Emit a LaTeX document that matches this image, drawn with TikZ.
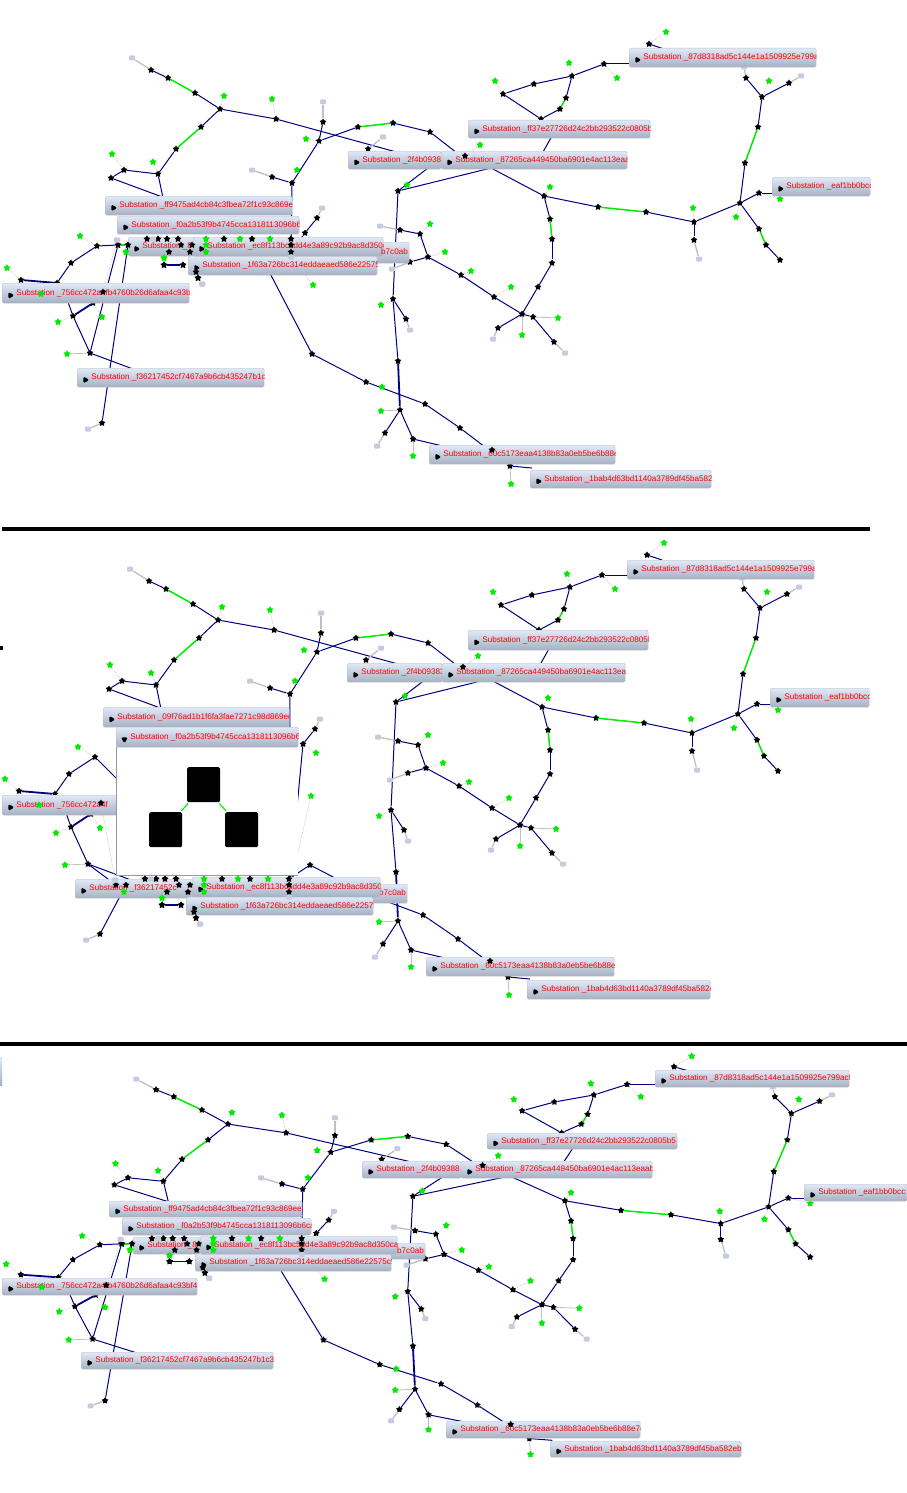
\documentclass[tikz,border=0pt]{standalone}
\usepackage{fontspec}
\setmainfont{Liberation Sans}
\usetikzlibrary{shapes.geometric}
\definecolor{navy}{RGB}{0,0,128}
\definecolor{hot}{RGB}{0,235,0}
\definecolor{boxtop}{RGB}{224,233,248}
\definecolor{boxbot}{RGB}{166,176,194}
\definecolor{endgray}{RGB}{196,204,222}
\pgfdeclarelayer{wires}
\pgfsetlayers{wires,main}
\tikzset{
    netnode/.style={star, star points=5, star point ratio=1.7, fill=black, inner sep=0pt, minimum size=7pt},
    leafnode/.style={star, star points=5, star point ratio=1.7, fill=hot, inner sep=0pt, minimum size=7.5pt},
    endnode/.style={rectangle, rounded corners=1pt, fill=endgray, inner sep=0pt, minimum width=6pt, minimum height=5pt},
    wire/.style={navy, line width=1pt},
    heavy/.style={navy, line width=1.8pt},
    hotwire/.style={hot, line width=1.5pt},
    stub/.style={gray!55, line width=0.6pt, densely dotted},
    solidstub/.style={gray!50, line width=0.8pt},
    endstub/.style={gray!50, line width=1.3pt},
    subtext/.style={anchor=west, inner sep=0pt, minimum width=0pt, minimum height=0pt, text=red, font=\fontsize{8.1}{9}\selectfont},
    subtip/.style={regular polygon, regular polygon sides=3, fill=black, inner sep=0pt, minimum size=8pt},
    subbox/.style={anchor=north west, inner sep=0pt, draw=gray!50, line width=0.4pt, rounded corners=1.5pt, top color=boxtop, bottom color=boxbot,
        path picture={
            \node[subtip, shape border rotate=\tiprot] (\n p) at ([xshift=6pt]path picture bounding box.west) {};
            \node[subtext] (\n t) at ([xshift=14pt]path picture bounding box.west) {\lab};
        }},
    popupsq/.style={rectangle, rounded corners=1.5pt, fill=black, inner sep=0pt}
}
\newcommand{\tiprot}{-90}
\newcommand{\subrow}[1]{
    \foreach \n/\xa/\ya/\xb/\yb/\lab in {#1} {
        \node[subbox, minimum width={(\xb-\xa)*1pt}, minimum height={(\yb-\ya)*1pt}] (\n) at (\xa,\ya) {};
    }
}
\newcommand{\netmain}[1]{
    \foreach \n/\x/\y in {a2/151/70, a3/168/78, a4/195/93, a5/220/109, a6/201/127, a7/176/149, a8/158/174, a9/124/170, a10/111/178,
        b1/276/119, b2/323/122, b3/319/141, b4/358/127, b5/393/123, b6/430/132, b7/368/149, c1/292/183, c2/272/177,
        d3/97/246, d4/71/263, d5/57/283, d6/21/280, d7/93/303, d8/73/316, d9/90/353, d10/102/423, e1/317/218, e2/305/233,
        f1/398/191, f2/400/230, f3/420/234, f4/428/257, f5/410/262, f6/393/299, f7/406/319, f8/398/361, f9/400/410, f10/385/433, f11/413/439,
        g1/461/275, g2/494/297, g3/522/314, g4/533/317, g5/554/342, g6/498/328, h1/538/287, h2/552/263, h3/552/239, h4/550/219, h5/544/196,
        i1/598/207, i2/646/212, i3/694/222, i4/694/240, i5/740/203, i6/759/193, i7/759/229, i8/766/245, i9/780/260,
        j1/745/163, j2/758/127, j3/762/97, j4/746/78, j5/789/83, k1/604/64, k2/572/76, k3/534/84, k4/503/94, k5/541/119, k6/560/109, k7/566/98,
        l1/649/44, m1/312/354, m2/366/382, m3/425/404, m4/460/428, n1/510/466} {
        \node[netnode] (#1\n) at (\x,\y) {};
    }
    \foreach \n/\x/\y in {la/224/96, lb/272/99, lc/306/139, ld/297/170, le/153/162, lf/112/154, lg/80/236, lh/7/268, li/102/317, lj/58/322, lk/67/354,
        ll/318/242, lm/313/285, ln/382/387, lo/381/411, lp/413/456, lq/381/305, lr/407/185, ls/430/224, lt/445/252, lu/471/271, lv/511/287,
        lw/558/318, lx/522/335, ly/550/187, lz/693/208, ma/736/217, mb/780/199, mc/769/81, md/617/78, me/569/63, mf/495/81, mg/666/32, mh/480/145, mi/511/484} {
        \node[leafnode] (#1\n) at (\x,\y) {};
    }
    \foreach \n/\x/\y in {ea/132/58, eb/323/102, ec/252/170, ed/383/137, ee/88/429, ef/322/208, eg/380/226, eh/392/269, ei/410/330, ej/377/446,
        ek/493/339, el/565/353, em/699/259, en/744/67, eo/801/76, ep/531/123} {
        \node[endnode] (#1\n) at (\x,\y) {};
    }
    \foreach \n/\x/\y in {xa/165/198, xb/163/198, xc/400/153, xd/457/153, xe/491/168, xf/428/168, xg/775/193, xh/632/64, xi/552/136, xj/543/152,
        xk/664/49, xl/485/447, xm/447/447, xn/532/468, xo/133/369, xp/68/302, xq/118/267} {
        \coordinate (#1\n) at (\x,\y);
    }
}
\newcommand{\netrow}[1]{
    \foreach \n/\x/\y in {d1/118/245, d2/128/245, r1/147/239, r2/158/239, r3/167/239, r4/178/239, r5/181/245, r6/192/245, r7/190/252, r8/169/252,
        r9/224/239, r10/252/239, r11/291/239, r12/291/245, r13/291/252, p4/164/265, p5/183/265, p6/198/278, p7/196/272} {
        \node[netnode] (#1\n) at (\x,\y) {};
    }
    \foreach \n/\x/\y in {s1/206/239, s2/206/245, s3/206/252, s4/240/239, s5/270/239, s6/126/252, s7/164/258} {
        \node[leafnode] (#1\n) at (\x,\y) {};
    }
    \foreach \n/\x/\y in {u1/117/240, u2/153/239, u3/291/257, u4/202/284} {
        \node[endnode] (#1\n) at (\x,\y) {};
    }
    \coordinate (#1rz) at (262,258);
    \coordinate (#1ry) at (290,255);
}
\newcommand{\nettop}[1]{
    \foreach \n/\x/\y in {t1/103/292, t2/465/156, t3/492/450} {
        \node[netnode] (#1\n) at (\x,\y) {};
    }
    \node[leafnode] (#1t4) at (41,294) {};
}
\newcommand{\netlinks}[1]{
    \foreach \a/\b in {a2/a3, a4/a5, a5/a6, a7/a8, a8/a9, a9/a10, a10/xa, a8/xb, a5/b1, b1/xc, b2/b3, b3/b4, b5/b6, b6/xd, b3/c1, c1/c2, c1/r13,
        d3/d4, d4/d5, d1/d9, d2/d10, d8/d9, d8/xp, d9/xo, e1/e2, e2/r13, m1/rz, m1/m2, m2/m3, m3/m4, m4/xl,
        f1/xe, f1/xf, f1/f6, f6/f8, f6/f7, f2/f3, f3/f4, f4/f5, f4/g1, g1/g2, g2/g3, g3/g4, g4/g5, g3/g6, g3/h1, h1/h2, h2/h3, h4/h5, h5/xe, h5/i1,
        i2/i3, i3/i4, i3/i5, i5/i6, i6/xg, i5/i7, i8/i9, i5/j1, j2/j3, j3/j4, j3/j5, k1/xh, k1/k2, k2/k3, k3/k4, k4/k5, k5/k6, k7/k2, xi/xj, l1/xk,
        f9/f10, f9/f11, f11/xm, n1/xn} {
        \draw[wire] (#1\a) -- (#1\b);
    }
    \foreach \a/\b in {d5/d6, d7/d8, f8/f9, p4/p5} {
        \draw[heavy] (#1\a) -- (#1\b);
    }
    \foreach \a/\b in {a3/a4, a6/a7, b4/b5, h3/h4, i1/i2, i7/i8, j1/j2, k6/k7, d1/d2} {
        \draw[hotwire] (#1\a) -- (#1\b);
    }
    \foreach \a/\b in {a5/la, b1/lb, b3/lc, a8/le, a9/lf, d3/lg, d6/lh, d7/li, d8/lj, e2/ll, ry/lm, f6/lq, f3/ls, f4/lt, g1/lu, g2/lv,
        h5/ly, i3/lz, i5/ma, i6/mb, j3/mc, k1/md, k2/me, k4/mf, l1/mg, t2/mh, p4/s7, t1/u1} {
        \draw[stub] (#1\a) -- (#1\b);
    }
    \foreach \a/\b in {d9/lk, f9/lo, f11/lp, g4/lw, g3/lx, n1/mi} {
        \draw[solidstub] (#1\a) -- (#1\b);
    }
    \foreach \a/\b in {a2/ea, b2/eb, c2/ec, b7/ed, d10/ee, e1/ef, f2/eg, f5/eh, f7/ei, f10/ej, g6/ek, g5/el, i4/em, j4/en, j5/eo, p6/u4} {
        \draw[endstub] (#1\a) -- (#1\b);
    }
}
\begin{document}
\begin{tikzpicture}[x=1pt, y=-1pt]
    \useasboundingbox (0,0) rectangle (907,1493);
    \netmain{A}
    \netrow{A}
    \nettop{A}
    \begin{pgfonlayer}{wires}
        \netlinks{A}
        \draw[wire] (Ad3) -- (Ad1);
    \end{pgfonlayer}
    \subrow{Abf/105/196/292/215/{Substation \_ff9475ad4cb84c3fbea72f1c93c869ee},
        Abe/225/242/409/263/{},
        Abg/2/283/189/303/{Substation \_756cc472a4fb4760b26d6afaa4c93bf4},
        Abh/77/368/264/387/{Substation \_f36217452cf7467a9b6cb435247b1c3f},
        Abi/117/216/299/234/{Substation \_f0a2b53f9b4745cca1318113096b6ca2},
        Abj/128/237/195/256/{Substation \_8},
        Abk/188/256/377/275/{Substation \_1f63a726bc314eddaeaed586e22575c9},
        Abl/193/237/383/256/{Substation \_ec8f113bc5dd4e3a89c92b9ac8d350ca},
        Abm/348/151/441/169/{Substation \_2f4b09388},
        Abn/441/151/627/169/{Substation \_87265ca449450ba6901e4ac113eaab},
        Abo/468/120/650/138/{Substation \_ff37e27726d24c2bb293522c0805b5},
        Abp/629/48/816/67/{Substation \_87d8318ad5c144e1a1509925e799acf8},
        Abq/772/177/870/196/{Substation \_eaf1bb0bcc},
        Abr/429/445/615/464/{Substation \_60c5173eaa4138b83a0eb5be6b88e7d},
        Abs/530/470/711/488/{Substation \_1bab4d63bd1140a3789df45ba582eb}}
    \node[subtext, anchor=east] (Abet) at (408,252) {b7c0ab};
    \netrow{A}
    \nettop{A}

    \coordinate (sepa) at (2,529);
    \coordinate (sepb) at (870,529);
    \draw[black, line width=3.5pt] (sepa) -- (sepb);
    \coordinate (sepc) at (0,1044);
    \coordinate (sepd) at (907,1044);
    \draw[black, line width=3.5pt] (sepc) -- (sepd);

    \begin{scope}[shift={(-2,511)}]
        \netmain{B}
    \end{scope}
    \begin{scope}[shift={(-2,640)}]
        \netrow{B}
    \end{scope}
    \begin{scope}[shift={(-2,511)}]
        \nettop{B}
    \end{scope}
    \begin{pgfonlayer}{wires}
        \netlinks{B}
        \draw[wire] (Bd3) -- (Bxq);
    \end{pgfonlayer}
    \subrow{Bbe/222/884/407/903/{},
        Bbg/2/795/189/815/{Substation \_756cc472a4f},
        Bbh/75/879/262/898/{Substation \_f36217452c},
        Bbf/103/707/289/727/{Substation \_09f76ad1b1f6fa3fae7271c98d869ee}}
    \node[subtext, anchor=east] (Bbet) at (406,893) {b7c0ab};
    \node[rectangle, fill=white, anchor=north west, inner sep=0pt, minimum width=182pt, minimum height=128pt] (Bpop) at (116,747) {};
    \draw[gray!80, line width=0.8pt] (Bpop.north west) -- (Bpop.south west);
    \draw[gray!80, line width=1.4pt] (Bpop.south west) -- (Bpop.south east);
    \node[popupsq, anchor=north west, minimum width=33pt, minimum height=35pt] (Bsqa) at (187,767) {};
    \node[popupsq, anchor=north west, minimum width=33pt, minimum height=35pt] (Bsqb) at (149,812) {};
    \node[popupsq, anchor=north west, minimum width=33pt, minimum height=35pt] (Bsqc) at (225,812) {};
    \draw[hot, line width=1.1pt] (Bsqa.south west) ++(1,1) -- ([shift={(-1,-1)}]Bsqb.north east);
    \draw[hot, line width=1.1pt] (Bsqa.south east) ++(-1,1) -- ([shift={(1,-1)}]Bsqc.north west);
    \subrow{Bbl/192/877/380/897/{Substation \_ec8f113bc5dd4e3a89c92b9ac8d350ca},
        Bbk/186/897/373/915/{Substation \_1f63a726bc314eddaeaed586e22575c9},
        Bbm/347/663/442/682/{Substation \_2f4b09383},
        Bbn/442/663/625/682/{Substation \_87265ca449450ba6901e4ac113eaab},
        Bbo/468/630/648/650/{Substation \_ff37e27726d24c2bb293522c0805b5},
        Bbp/627/560/814/579/{Substation \_87d8318ad5c144e1a1509925e799acf8},
        Bbq/770/688/869/707/{Substation \_eaf1bb0bcc},
        Bbr/426/957/614/976/{Substation \_60c5173eaa4138b83a0eb5be6b88e7d},
        Bbs/527/980/710/999/{Substation \_1bab4d63bd1140a3789df45ba582eb}}
    \renewcommand{\tiprot}{180}
    \subrow{Bbi/116/727/298/747/{Substation \_f0a2b53f9b4745cca1318113096b6ca2}}
    \renewcommand{\tiprot}{-90}
    \begin{scope}[shift={(-2,640)}]
        \netrow{B}
    \end{scope}
    \begin{scope}[shift={(-2,511)}]
        \nettop{B}
    \end{scope}
    \node[rectangle, fill=black, inner sep=0pt, minimum width=3pt, minimum height=4pt] (Btick) at (1,648) {};

    \begin{scope}[shift={(-1,1028)}, xscale=1.04, yscale=0.881]
        \netmain{C}
        \netrow{C}
        \nettop{C}
    \end{scope}
    \begin{pgfonlayer}{wires}
        \netlinks{C}
        \draw[wire] (Cd3) -- (Cd1);
    \end{pgfonlayer}
    \subrow{Cbf/109/1201/302/1217/{Substation \_ff9475ad4cb84c3fbea72f1c93c869ee},
        Cbe/233/1243/425/1259/{},
        Cbg/2/1278/197/1295/{Substation \_756cc472a4fb4760b26d6afaa4c93bf4},
        Cbh/81/1352/273/1369/{Substation \_f36217452cf7467a9b6cb435247b1c3f},
        Cbi/122/1218/311/1235/{Substation \_f0a2b53f9b4745cca1318113096b6ca2},
        Cbj/133/1237/200/1254/{Substation \_8},
        Cbk/195/1254/391/1271/{Substation \_1f63a726bc314eddaeaed586e22575c9},
        Cbl/200/1236/397/1254/{Substation \_ec8f113bc5dd4e3a89c92b9ac8d350ca},
        Cbm/362/1161/461/1178/{Substation \_2f4b09388},
        Cbn/461/1161/652/1178/{Substation \_87265ca449450ba6901e4ac113eaab},
        Cbo/487/1133/677/1149/{Substation \_ff37e27726d24c2bb293522c0805b5},
        Cbp/655/1070/849/1087/{Substation \_87d8318ad5c144e1a1509925e799acf8},
        Cbq/804/1184/907/1201/{Substation \_eaf1bb0bcc},
        Cbr/446/1421/640/1438/{Substation \_60c5173eaa4138b83a0eb5be6b88e7d},
        Cbs/550/1441/741/1457/{Substation \_1bab4d63bd1140a3789df45ba582eb}}
    \node[subtext, anchor=east] (Cbet) at (424,1251) {b7c0ab};
    \begin{scope}[shift={(-1,1028)}, xscale=1.04, yscale=0.881]
        \netrow{C}
        \nettop{C}
    \end{scope}
    \node[rectangle, top color=boxtop, bottom color=boxbot, inner sep=0pt, anchor=north west, minimum width=2pt, minimum height=28pt] (Cstub) at (0,1057) {};
\end{tikzpicture}
\end{document}
